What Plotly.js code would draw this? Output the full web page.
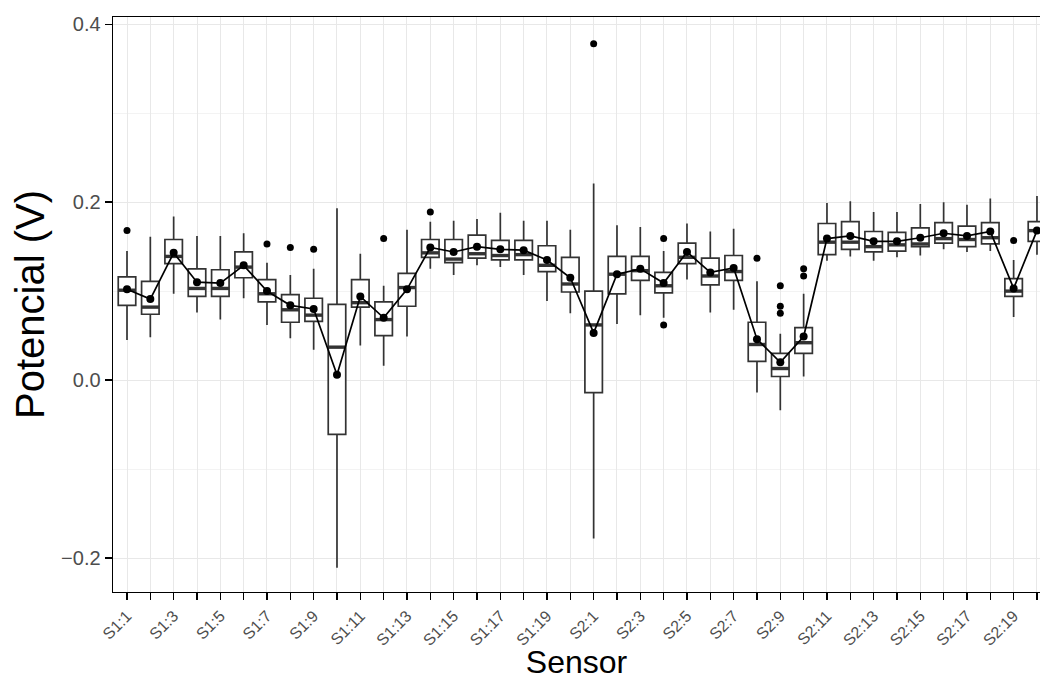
<!DOCTYPE html>
<html><head><meta charset="utf-8">
<script src="https://cdn.plot.ly/plotly-3.0.1.min.js"></script>
<style>html,body{margin:0;padding:0;background:#fff;overflow:hidden}</style>
</head><body><div id="chart" style="width:1040px;height:680px"></div>
<script>
const sensors = ['S1:1','S1:2','S1:3','S1:4','S1:5','S1:6','S1:7','S1:8','S1:9','S1:10',
  'S1:11','S1:12','S1:13','S1:14','S1:15','S1:16','S1:17','S1:18','S1:19','S1:20',
  'S2:1','S2:2','S2:3','S2:4','S2:5','S2:6','S2:7','S2:8','S2:9','S2:10',
  'S2:11','S2:12','S2:13','S2:14','S2:15','S2:16','S2:17','S2:18','S2:19','S2:20'];
const lowerWhisker = [0.045,0.048,0.097,0.076,0.068,0.092,0.062,0.047,0.034,-0.211,
  0.039,0.016,0.049,0.125,0.118,0.129,0.127,0.118,0.089,0.075,
  -0.178,0.063,0.073,0.070,0.113,0.076,0.079,-0.014,-0.034,0.004,
  0.134,0.139,0.134,0.138,0.140,0.147,0.144,0.145,0.071,0.141];
const q1 = [0.084,0.074,0.131,0.094,0.094,0.115,0.088,0.065,0.066,-0.061,
  0.082,0.050,0.083,0.138,0.132,0.137,0.135,0.135,0.122,0.099,
  -0.014,0.097,0.112,0.098,0.131,0.107,0.112,0.021,0.004,0.030,
  0.141,0.147,0.144,0.145,0.150,0.154,0.150,0.153,0.094,0.156];
const median = [0.101,0.082,0.139,0.103,0.103,0.127,0.097,0.079,0.073,0.037,
  0.087,0.068,0.104,0.143,0.136,0.142,0.140,0.141,0.129,0.108,
  0.062,0.119,0.123,0.106,0.138,0.117,0.122,0.040,0.013,0.042,
  0.155,0.155,0.150,0.152,0.153,0.159,0.158,0.160,0.100,0.168];
const q3 = [0.116,0.111,0.158,0.125,0.124,0.144,0.113,0.096,0.092,0.085,
  0.113,0.088,0.120,0.158,0.158,0.163,0.157,0.157,0.151,0.138,
  0.100,0.139,0.139,0.121,0.154,0.137,0.140,0.065,0.030,0.059,
  0.176,0.178,0.167,0.166,0.171,0.177,0.173,0.177,0.114,0.178];
const upperWhisker = [0.145,0.161,0.184,0.162,0.162,0.165,0.132,0.118,0.125,0.193,
  0.142,0.106,0.169,0.178,0.179,0.181,0.188,0.179,0.179,0.169,
  0.221,0.174,0.172,0.145,0.176,0.167,0.170,0.111,0.052,0.097,
  0.199,0.201,0.189,0.189,0.198,0.200,0.197,0.204,0.135,0.207];
const meanValue = [0.102,0.091,0.143,0.110,0.109,0.129,0.100,0.084,0.080,0.006,
  0.094,0.070,0.102,0.149,0.144,0.150,0.147,0.146,0.135,0.115,
  0.053,0.119,0.125,0.109,0.144,0.121,0.126,0.046,0.020,0.049,
  0.159,0.162,0.156,0.156,0.160,0.165,0.162,0.167,0.103,0.168];
const outlierSensor = ['S1:1','S1:7','S1:8','S1:9','S1:12','S1:14','S2:1','S2:4','S2:4',
  'S2:8','S2:9','S2:9','S2:9','S2:10','S2:10','S2:19'];
const outlierValue = [0.168,0.153,0.149,0.147,0.159,0.189,0.378,0.159,0.062,
  0.137,0.106,0.083,0.075,0.125,0.117,0.157];
const yTickVals = [-0.2, 0.0, 0.2, 0.4];

const idx = sensors.map((_, i) => i);
const boxW = 0.75;
const medX = [], medY = [];
idx.forEach(i => { medX.push(i - boxW/2, i + boxW/2, null); medY.push(median[i], median[i], null); });

const traces = [
  {type:'box', x: idx, q1: q1, median: median, q3: q3,
   lowerfence: lowerWhisker, upperfence: upperWhisker,
   width: boxW, whiskerwidth: 0, fillcolor: '#ffffff',
   line: {color: '#333333', width: 1.7}, hoverinfo: 'skip', showlegend: false},
  {type:'scatter', mode:'lines', x: medX, y: medY,
   line: {color: '#333333', width: 3.4}, hoverinfo: 'skip', showlegend: false},
  {type:'scatter', mode:'lines+markers', x: idx, y: meanValue,
   line: {color: '#000000', width: 1.7}, marker: {color: '#000000', size: 8},
   hoverinfo: 'skip', showlegend: false, cliponaxis: true},
  {type:'scatter', mode:'markers', x: outlierSensor.map(s => sensors.indexOf(s)), y: outlierValue,
   marker: {color: '#000000', size: 7}, hoverinfo: 'skip', showlegend: false, cliponaxis: true}
];

const layout = {
  width: 1040, height: 680,
  margin: {l: 113, r: 0, t: 17, b: 88},
  paper_bgcolor: '#ffffff', plot_bgcolor: '#ffffff',
  font: {family: 'Liberation Sans, Arial, sans-serif'},
  showlegend: false,
  xaxis: {
    range: [-0.6, 39.13], tickmode: 'array', tickvals: idx,
    ticktext: sensors.map((s, i) => i % 2 === 0 ? s : ''),
    tickangle: -45, ticks: 'outside', ticklen: 7, tickwidth: 1.3, tickcolor: '#000',
    tickfont: {size: 16, color: '#4d4d4d'},
    showline: true, linecolor: '#000', linewidth: 1.4, mirror: true,
    showgrid: true, gridcolor: '#e8e8e8', gridwidth: 1, zeroline: false,
    title: {text: 'Sensor', font: {size: 32, color: '#000'}, standoff: 2}
  },
  yaxis: {
    range: [-0.2382, 0.4081], tickmode: 'array', tickvals: yTickVals,
    ticktext: yTickVals.map(v => v.toFixed(1).replace('-', '\u2212')),
    ticks: 'outside', ticklen: 7, tickwidth: 1.3, tickcolor: '#000',
    tickfont: {size: 20, color: '#4d4d4d'},
    showline: true, linecolor: '#000', linewidth: 1.4, mirror: false,
    showgrid: true, gridcolor: '#e8e8e8', gridwidth: 1, zeroline: false,
    minor: {tickvals: [-0.1, 0.1, 0.3], showgrid: true, gridcolor: '#f3f3f3', gridwidth: 1, ticks: ''},
    title: {text: 'Potencial (V)', font: {size: 40, color: '#000'}, standoff: 4}
  }
};
Plotly.newPlot('chart', traces, layout, {staticPlot: true, displayModeBar: false});
</script></body></html>
